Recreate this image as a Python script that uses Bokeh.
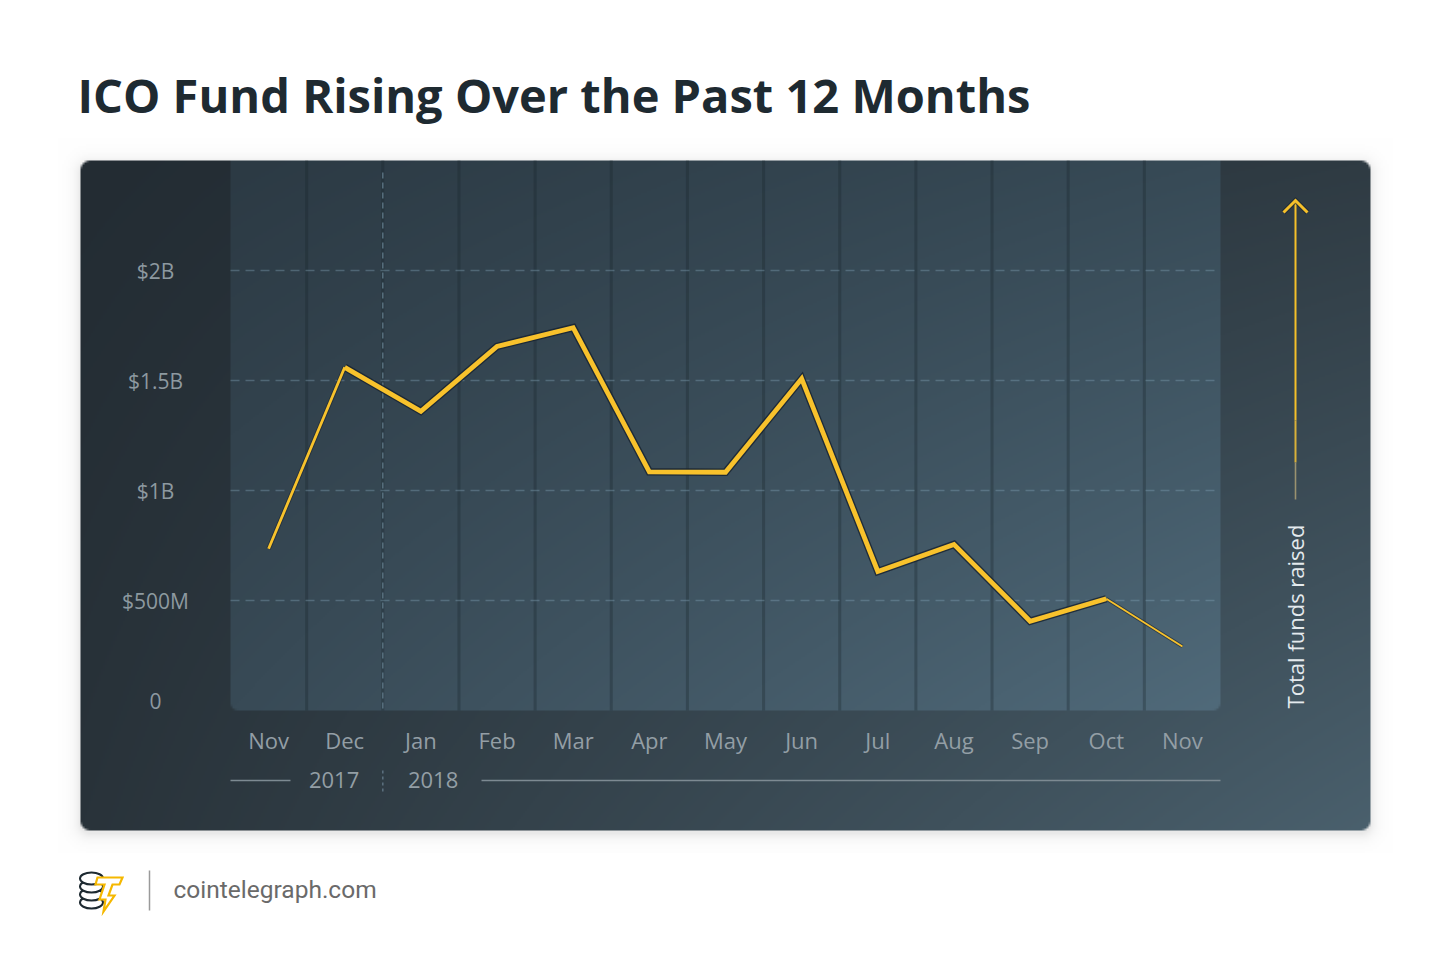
import numpy as np
from bokeh.plotting import figure
from bokeh.models import Range1d
from bokeh.core.properties import value
from bokeh.embed import file_html
from bokeh.resources import INLINE

# ---------------- data ----------------
title = "ICO Fund Rising Over the Past 12 Months"
months = ["Nov", "Dec", "Jan", "Feb", "Mar", "Apr", "May", "Jun", "Jul", "Aug", "Sep", "Oct", "Nov"]
funds_billion = [0.735, 1.56, 1.36, 1.655, 1.74, 1.085, 1.083, 1.508, 0.632, 0.755, 0.406, 0.508, 0.291]
y_ticks = [0.5, 1.0, 1.5, 2.0]
y_tick_labels = ["$500M", "$1B", "$1.5B", "$2B"]
zero_label = "0"
years = ["2017", "2018"]
year_break_after = 1          # Dec 2017 is the last month of 2017
axis_title = "Total funds raised"
source_text = "cointelegraph.com"

# ---------------- layout (reference pixels) ----------------
PAGE_W, PAGE_H, OFF = 1434, 964, 0
PLOT_L, PLOT_R = 230, 1220
ZERO_Y, TWO_B_Y = 710, 270
n = len(months)
ppx = (PLOT_R - PLOT_L) / n
ppy = (ZERO_Y - TWO_B_Y) / 2.0
x0 = -0.5 - (PLOT_L - OFF) / ppx
x1 = x0 + PAGE_W / ppx
y0 = -(PAGE_H - (ZERO_Y - OFF)) / ppy
y1 = y0 + PAGE_H / ppy


def X(px):
    return x0 + (px - OFF) / ppx


def Y(py):
    return y0 + (PAGE_H - (py - OFF)) / ppy


def DX(d):
    return d / ppx


def DY(d):
    return d / ppy


p = figure(width=PAGE_W, height=PAGE_H, x_range=Range1d(x0, x1), y_range=Range1d(y0, y1),
           output_backend="svg", toolbar_location=None, min_border=0,
           x_axis_location=None, y_axis_location=None,
           outline_line_color=None, background_fill_color="white", border_fill_color="white")
p.grid.visible = False

# ---------------- card background (gradient image) ----------------
def hexrgb(h):
    h = h.lstrip("#")
    return np.array([int(h[i:i + 2], 16) for i in (0, 2, 4)], dtype=float)


def bilinear(u, v, tl, tr, bl, br):
    u = np.clip(u, 0, 1)[..., None]
    v = np.clip(v, 0, 1)[..., None]
    return ((1 - u) * (1 - v) * hexrgb(tl) + u * (1 - v) * hexrgb(tr)
            + (1 - u) * v * hexrgb(bl) + u * v * hexrgb(br))


def rr_sdf(xx, yy, l, t, r, b, rad):
    cx, cy = (l + r) / 2, (t + b) / 2
    qx = np.abs(xx - cx) - ((r - l) / 2 - rad)
    qy = np.abs(yy - cy) - ((b - t) / 2 - rad)
    out = np.hypot(np.maximum(qx, 0), np.maximum(qy, 0))
    ins = np.minimum(np.maximum(qx, qy), 0)
    return out + ins - rad


CL, CT, CR, CB = 80, 160, 1370, 830
PAD, S = 22, 2
ix0, iy0, ix1, iy1 = CL - PAD, CT - PAD, CR + PAD, CB + PAD
w, h = (ix1 - ix0) // S, (iy1 - iy0) // S
xx, yy = np.meshgrid(ix0 + (np.arange(w) + 0.5) * S, iy0 + (np.arange(h) + 0.5) * S)

card = bilinear((xx - CL) / (CR - CL), (yy - CT) / (CB - CT), "#232c33", "#2f3b43", "#29333a", "#4a606d")
plot_col = bilinear((xx - PLOT_L) / (PLOT_R - PLOT_L), (yy - CT) / (ZERO_Y - CT),
                    "#2c3a44", "#374a56", "#384a56", "#506a7a")
pa = np.clip(0.5 - rr_sdf(xx, yy, PLOT_L, CT - 20, PLOT_R, ZERO_Y, 8) / S, 0, 1)[..., None]
card = card * (1 - pa) + plot_col * pa
ca = np.clip(0.5 - rr_sdf(xx, yy, CL, CT, CR, CB, 10) / S, 0, 1)[..., None]
sd = np.maximum(rr_sdf(xx, yy - 3, CL, CT, CR, CB, 10), 0)
sa = (0.13 * np.exp(-sd / 6.0))[..., None]
white = np.array([255.0, 255.0, 255.0])
under = white * (1 - sa) + np.array([90.0, 90.0, 90.0]) * sa
rgb = card * ca + under * (1 - ca)
rgba = np.empty((h, w, 4), dtype=np.uint8)
rgba[..., :3] = np.clip(rgb, 0, 255).astype(np.uint8)
rgba[..., 3] = 255
img = np.flipud(rgba).copy().view(np.uint32).reshape(h, w)
p.image_rgba(image=[img], x=X(ix0), y=Y(iy1), dw=DX(ix1 - ix0), dh=DY(iy1 - iy0))

# ---------------- grid ----------------
idx = list(range(n))
seps = [i + 0.5 for i in range(n - 1)]
p.segment(x0=seps, y0=[Y(CT)] * len(seps), x1=seps, y1=[Y(ZERO_Y)] * len(seps),
          line_color="#1a242b", line_alpha=0.32, line_width=3)
p.segment(x0=[year_break_after + 0.5], y0=[Y(CT + 12)], x1=[year_break_after + 0.5], y1=[Y(ZERO_Y)],
          line_color="#58707f", line_width=1.5, line_dash="6 4")
p.segment(x0=[-0.5] * len(y_ticks), y0=y_ticks, x1=[n - 0.5] * len(y_ticks), y1=y_ticks,
          line_color="#7fa0b5", line_alpha=0.4, line_width=1.5, line_dash="9 6")

# ---------------- the series ----------------
p.line(x=idx[1:-1], y=funds_billion[1:-1], line_color="#17222f", line_alpha=0.8, line_width=7.5,
       line_join="miter")
p.line(x=idx[:2], y=funds_billion[:2], line_color="#17222f", line_alpha=0.6, line_width=4.5)
p.line(x=idx[-2:], y=funds_billion[-2:], line_color="#17222f", line_alpha=0.6, line_width=3.5)
p.line(x=idx[1:-1], y=funds_billion[1:-1], line_color="#f8c22c", line_width=4.8, line_join="miter")
p.line(x=idx[:2], y=funds_billion[:2], line_color="#f8c22c", line_width=2.8)
p.line(x=idx[-2:], y=funds_billion[-2:], line_color="#f8c22c", line_width=1.8)

# ---------------- axis texts ----------------
TICK_FONT = value("Open Sans")
p.text(x=[X(155)] * len(y_ticks), y=y_ticks, text=y_tick_labels, text_align="center",
       text_baseline="middle", text_font=TICK_FONT, text_font_size=value("21px"),
       text_color="#8d99a0", y_offset=0)
p.text(x=[X(155)], y=[0], text=[zero_label], text_align="center", text_baseline="middle",
       text_font=TICK_FONT, text_font_size=value("21px"), text_color="#8d99a0", y_offset=-10)
p.text(x=idx, y=[Y(739)] * n, text=months, text_align="center", text_baseline="middle",
       text_font=TICK_FONT, text_font_size=value("22px"), text_color="#939ea5")

# year row
p.text(x=[year_break_after + 0.5 - 0.64, year_break_after + 0.5 + 0.66], y=[Y(779)] * 2, text=years,
       text_align="center", text_baseline="middle", text_font=TICK_FONT,
       text_font_size=value("22px"), text_color="#939ea5")
p.segment(x0=[X(PLOT_L), X(481)], y0=[Y(780)] * 2, x1=[X(290), X(PLOT_R)], y1=[Y(780)] * 2,
          line_color="#7d8a92", line_width=1.5)
p.segment(x0=[year_break_after + 0.5], y0=[Y(770)], x1=[year_break_after + 0.5], y1=[Y(792)],
          line_color="#5d7180", line_width=1.5, line_dash="3 3")

# ---------------- right-hand arrow ----------------
AX = X(1295)
p.segment(x0=[AX], y0=[Y(201)], x1=[AX], y1=[Y(420)], line_color="#f5c02a", line_width=2)
p.segment(x0=[AX], y0=[Y(420)], x1=[AX], y1=[Y(462)], line_color="#d9b13a", line_width=2)
p.segment(x0=[AX], y0=[Y(462)], x1=[AX], y1=[Y(499)], line_color="#9a9270", line_width=1.6)
p.line(x=[X(1283), AX, X(1307)], y=[Y(212), Y(200), Y(212)], line_color="#17222f", line_alpha=0.6,
       line_width=5, line_join="miter")
p.line(x=[X(1283), AX, X(1307)], y=[Y(212), Y(200), Y(212)], line_color="#f5c02a", line_width=3,
       line_join="miter")
p.text(x=[X(1294)], y=[Y(616)], text=[axis_title], angle=np.pi / 2, text_align="center",
       text_baseline="middle", text_font=TICK_FONT, text_font_size=value("22px"),
       text_color="#e4eaee")

# ---------------- title ----------------
p.text(x=[X(77)], y=[Y(94)], text=[title], text_align="left", text_baseline="middle",
       text_font=value("Open Sans"), text_font_style="bold", text_font_size=value("47px"),
       text_color="#1e2a31")

# ---------------- footer ----------------
coin_y = [902, 894, 886, 878]
p.ellipse(x=[X(91)] * 4, y=[Y(c) for c in coin_y], width=DX(23), height=DY(12),
          fill_color="white", line_color="#1e2a31", line_width=2)
bolt = [(97, 877), (122, 877), (119, 884), (112, 884), (108, 895), (114, 895), (103, 911),
        (105, 899), (99, 899), (104, 884), (95, 884)]
p.patch(x=[X(a) for a, b in bolt], y=[Y(b) for a, b in bolt], fill_color="white",
        line_color="#f5b800", line_width=2.2, line_join="miter")
p.segment(x0=[X(149)], y0=[Y(870)], x1=[X(149)], y1=[Y(910)], line_color="#9a9a9a", line_width=1.5)
p.text(x=[X(173)], y=[Y(889)], text=[source_text], text_align="left", text_baseline="middle",
       text_font=value("Roboto"), text_font_size=value("24.5px"), text_color="#6a6a6a")

open("out.html", "w").write(file_html(p, INLINE))
